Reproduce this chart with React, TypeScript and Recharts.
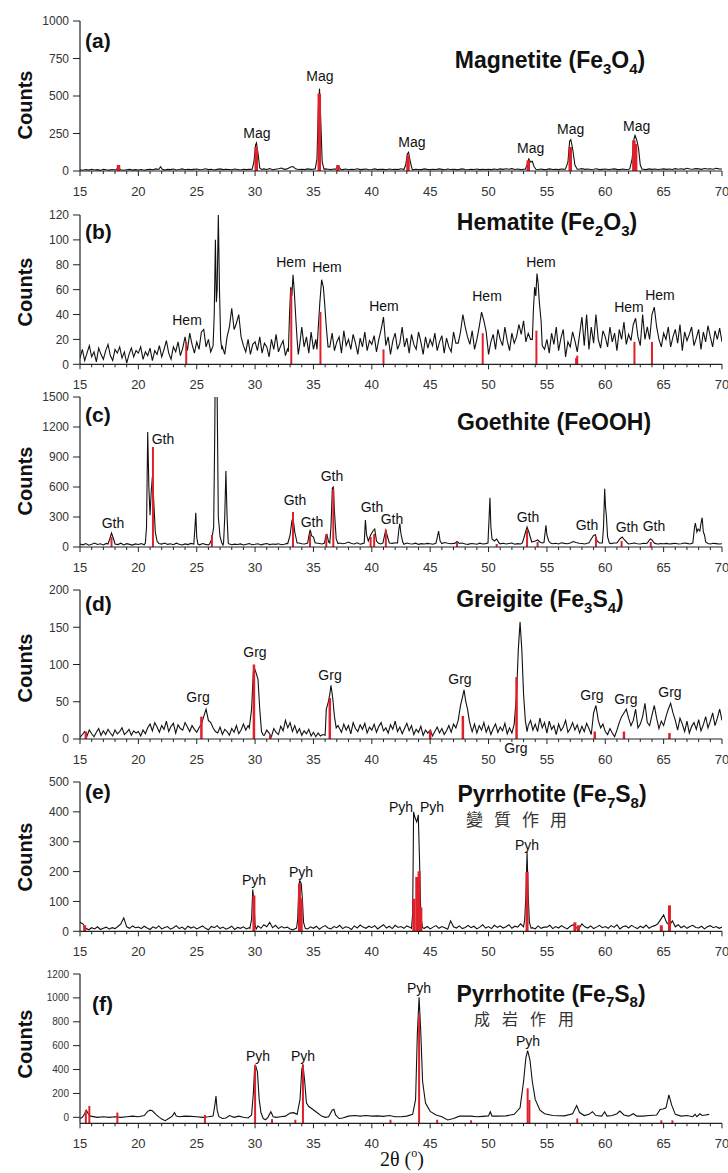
import React from 'react';
import { LineChart, Line, XAxis, YAxis, ReferenceLine, ReferenceDot } from 'recharts';

const FONT = "'Liberation Sans', Arial, sans-serif";
const RED = '#e0202a';

// x grid of the scans: 15..70 deg 2theta
const X_START = 15;
const xTicks = Array.from({ length: 56 }, (_, i) => 15 + i);

// (a) magnetite, step 0.25
const bgA = [
  8, 5, 10, 6, 12, 7, 9, 4, 11, 8, 6, 10, 7, 13, 9, 5, 8, 11, 6, 9,
  7, 10, 5, 9, 12, 8, 14, 8, 10, 6, 11, 9, 13, 7, 10, 14, 8, 12, 9, 11,
  13, 8, 10, 15, 9, 12, 7, 11, 14, 9, 12, 10, 8, 13, 10, 7, 12, 9, 11, 14,
  10, 12, 9, 14, 10, 16, 8, 12, 15, 20, 11, 14, 25, 30, 13, 10, 12, 9, 14, 11,
  12, 10, 15, 11, 14, 12, 9, 13, 10, 14, 9, 13, 8, 12, 10, 15, 9, 11, 13, 8,
  10, 14, 9, 12, 11, 8, 13, 10, 12, 9, 15, 11, 10, 13, 8, 12, 10, 9, 14, 11,
  9, 12, 10, 14, 11, 8, 13, 10, 12, 9, 11, 14, 10, 8, 12, 10, 13, 9, 11, 10,
  12, 9, 13, 10, 14, 11, 15, 12, 16, 10, 13, 9, 12, 14, 11, 18, 12, 10, 13, 9,
  11, 14, 10, 12, 9, 13, 11, 12, 10, 14, 9, 12, 16, 11, 13, 10, 12, 15, 9, 11,
  13, 10, 12, 14, 11, 9, 13, 10, 12, 15, 11, 13, 10, 12, 9, 14, 11, 13, 10, 12,
  14, 11, 13, 10, 16, 12, 15, 11, 18, 13, 12, 16, 14, 11, 17, 13, 15, 12, 18, 14,
  13,
];
const peaksA = [
  [[18.1, 10], [18.3, 22], [18.5, 8]],
  [[21.75, 10], [21.9, 28], [22.05, 12]],
  [[29.75, 12], [29.9, 60], [30.05, 175], [30.12, 187], [30.25, 120], [30.4, 20], [30.55, 10]],
  [[35.15, 14], [35.3, 80], [35.42, 420], [35.52, 549], [35.62, 350], [35.75, 60], [35.9, 12]],
  [[36.9, 12], [37.05, 30], [37.2, 25], [37.35, 10]],
  [[42.75, 10], [42.9, 40], [43.05, 115], [43.15, 125], [43.3, 60], [43.45, 12]],
  [[53.15, 12], [53.3, 40], [53.45, 80], [53.6, 60], [53.75, 65], [53.9, 30], [54.05, 12]],
  [[56.6, 14], [56.8, 60], [56.95, 200], [57.05, 209], [57.2, 150], [57.4, 40], [57.6, 12]],
  [[62.1, 14], [62.3, 80], [62.45, 210], [62.55, 238], [62.7, 205], [62.85, 150], [63.0, 40], [63.15, 12]],
];
const sticksA = [[18.3, 40], [30.1, 160], [35.5, 515], [37.1, 40], [43.1, 104], [53.4, 71], [57.0, 160], [62.45, 204], [62.6, 180]];
const labelsA = [[30.16, 251], [35.56, 631], [43.44, 191], [53.61, 151], [57.04, 278], [62.69, 298]];

// (b) hematite, step 0.2
const bgB = [
  5, 12, 3, 9, 15, 6, 10, 2, 13, 8, 4, 11, 16, 7, 3, 12, 9, 14, 5, 10, 1, 8, 13, 6, 11,
  9, 14, 4, 10, 7, 13, 3, 11, 8, 15, 6, 12, 19, 9, 4, 14, 10, 18, 7, 13, 22, 11, 25, 16, 9,
  18, 12, 26, 28, 14, 20, 10, 15, 60, 60, 40, 14, 8, 22, 30, 45, 28, 33, 40, 22, 15, 10, 20, 8, 16,
  18, 11, 22, 9, 17, 14, 6, 20, 12, 24, 10, 15, 19, 7, 13, 21, 16, 40, 25, 14, 30, 14, 22, 9, 26,
  12, 20, 30, 40, 65, 55, 20, 14, 25, 11, 18, 22, 9, 27, 15, 20, 12, 24, 17, 8, 21, 14, 26, 11, 19,
  16, 23, 10, 20, 28, 38, 15, 22, 8, 19, 25, 12, 17, 30, 14, 21, 9, 24, 16, 12, 26, 18, 8, 22, 13,
  20, 15, 25, 11, 18, 23, 9, 21, 14, 10, 26, 17, 17, 26, 40, 30, 22, 16, 27, 12, 20, 30, 42, 35, 26,
  8, 18, 24, 12, 28, 20, 15, 30, 19, 11, 25, 17, 22, 32, 24, 35, 18, 25, 20, 50, 60, 70, 55, 30, 12,
  20, 9, 25, 16, 30, 11, 21, 28, 6, 18, 14, 26, 19, 10, 24, 38, 15, 40, 12, 30, 17, 40, 20, 13, 27,
  22, 14, 30, 18, 25, 11, 28, 20, 34, 16, 24, 19, 32, 37, 22, 15, 40, 20, 30, 20, 40, 46, 30, 20, 14,
  25, 20, 30, 14, 22, 28, 17, 32, 11, 26, 19, 24, 30, 15, 21, 28, 12, 26, 18, 31, 22, 14, 27, 20, 29,
  18,
];
const peaksB = [
  [[26.4, 15], [26.5, 40], [26.6, 100], [26.68, 50], [26.75, 60], [26.85, 120], [26.95, 60], [27.05, 20], [27.15, 12]],
  [[32.85, 10], [32.95, 40], [33.05, 62], [33.15, 55], [33.25, 72], [33.35, 60], [33.5, 35], [33.6, 20], [33.7, 8]],
  [[35.3, 12], [35.45, 35], [35.55, 50], [35.7, 68], [35.85, 62], [35.95, 50], [36.1, 30], [36.25, 14]],
  [[53.75, 20], [53.85, 45], [53.95, 62], [54.05, 55], [54.15, 73], [54.25, 65], [54.35, 50], [54.5, 35], [54.6, 15]],
];
const sticksB = [[24.1, 18], [33.1, 60], [35.6, 42], [41.0, 12], [49.5, 25], [54.1, 27], [57.5, 5], [57.6, 7], [62.5, 18], [64.0, 18]];
const labelsB = [[24.17, 36], [33.08, 82], [36.16, 78], [41.04, 47], [49.87, 55], [54.49, 82], [62.03, 46], [64.69, 56]];

// (c) goethite, step 0.25
const bgC = [
  30, 22, 35, 18, 28, 40, 25, 32, 20, 36, 27, 15, 30, 24, 38, 21, 33, 26, 19, 31,
  25, 34, 22, 30, 18, 27, 35, 21, 29, 40, 26, 33, 23, 38, 28, 20, 31, 24, 36, 27,
  30, 22, 35, 26, 20, 28, 32, 24, 30, 19, 27, 33, 22, 29, 25, 31, 20, 28, 34, 23,
  27, 32, 21, 29, 35, 24, 30, 26, 33, 22, 28, 36, 25, 31, 27, 40, 33, 30, 45, 60,
  50, 40, 35, 30, 28, 35, 45, 30, 55, 40, 32, 38, 50, 35, 30, 42, 28, 36, 40, 33,
  45, 35, 40, 30, 38, 50, 32, 36, 42, 30, 35, 28, 40, 33, 30, 38, 26, 34, 30, 36,
  32, 28, 35, 40, 30, 45, 38, 32, 36, 28, 34, 40, 30, 26, 35, 32, 28, 38, 30, 34,
  36, 30, 45, 40, 32, 38, 30, 35, 40, 28, 34, 30, 38, 32, 36, 40, 30, 35, 38, 30,
  34, 40, 32, 38, 30, 42, 36, 33, 40, 55, 45, 38, 35, 30, 40, 36, 32, 38, 42, 40,
  36, 30, 34, 40, 45, 38, 32, 36, 30, 35, 40, 33, 30, 38, 35, 32, 40, 36, 30, 34,
  32, 36, 30, 34, 38, 30, 33, 40, 36, 30, 34, 38, 40, 35, 36, 33, 30, 38, 34, 30,
  32,
];
const peaksC = [
  [[17.4, 30], [17.55, 80], [17.7, 140], [17.85, 90], [18.0, 30]],
  [[20.6, 40], [20.7, 200], [20.8, 1150], [20.9, 600], [21.0, 317], [21.1, 550], [21.2, 700], [21.3, 500], [21.45, 150], [21.6, 60], [21.75, 35]],
  [[24.75, 30], [24.85, 200], [24.92, 343], [25.0, 100], [25.1, 30]],
  [[26.1, 30], [26.3, 80], [26.45, 200], [26.55, 1200], [26.65, 3000], [26.75, 1500], [26.85, 300], [27.0, 100], [27.15, 40]],
  [[27.3, 40], [27.4, 300], [27.5, 760], [27.6, 300], [27.7, 40]],
  [[32.8, 35], [33.0, 120], [33.15, 260], [33.25, 293], [33.4, 150], [33.6, 40]],
  [[34.5, 40], [34.62, 120], [34.72, 170], [34.85, 110], [35.0, 100], [35.15, 40]],
  [[35.95, 40], [36.05, 110], [36.15, 125], [36.3, 50]],
  [[36.4, 40], [36.5, 200], [36.62, 590], [36.7, 600], [36.8, 350], [36.95, 80], [37.1, 35]],
  [[39.35, 40], [39.45, 270], [39.55, 120], [39.7, 60], [39.9, 120], [40.1, 160], [40.25, 180], [40.4, 60], [40.55, 40]],
  [[40.95, 40], [41.1, 120], [41.2, 165], [41.35, 100], [41.5, 40]],
  [[42.2, 40], [42.32, 180], [42.4, 233], [42.5, 130], [42.65, 50]],
  [[45.5, 40], [45.65, 120], [45.72, 160], [45.85, 60], [46.0, 35]],
  [[47.1, 35], [47.3, 55], [47.5, 35]],
  [[49.95, 40], [50.05, 300], [50.12, 493], [50.2, 200], [50.3, 80], [50.5, 60], [50.7, 80], [50.9, 40]],
  [[52.9, 40], [53.1, 120], [53.3, 200], [53.45, 150], [53.7, 50], [54.0, 60], [54.2, 70], [54.4, 50], [54.6, 40]],
  [[54.75, 45], [54.85, 150], [54.92, 217], [55.0, 120], [55.15, 60], [55.3, 40]],
  [[58.6, 40], [58.8, 80], [59.0, 115], [59.15, 123], [59.3, 60], [59.5, 40]],
  [[59.75, 40], [59.85, 200], [59.95, 583], [60.02, 400], [60.1, 300], [60.2, 100], [60.35, 40]],
  [[61.0, 40], [61.25, 80], [61.45, 100], [61.65, 70], [61.9, 40]],
  [[63.6, 40], [63.85, 80], [64.0, 70], [64.2, 40]],
  [[67.5, 40], [67.65, 200], [67.72, 240], [67.85, 150], [67.95, 180], [68.1, 160], [68.22, 250], [68.3, 293], [68.4, 150], [68.5, 120], [68.6, 50], [68.8, 35]],
];
const sticksC = [[17.7, 100], [21.25, 1000], [26.3, 120], [33.25, 350], [34.7, 130], [36.1, 130], [36.7, 580], [39.9, 100], [40.2, 130], [41.2, 173], [47.3, 40], [50.7, 30], [53.3, 170], [54.2, 50], [59.2, 100], [61.4, 60], [63.9, 50]];
const labelsC = [[17.83, 237], [22.11, 1077], [33.42, 467], [34.87, 247], [36.59, 707], [40.01, 397], [41.73, 277], [53.38, 297], [58.43, 217], [61.86, 197], [64.17, 207]];

// (d) greigite, step 0.2
const bgD = [
  2, 6, 10, 4, 12, 7, 3, 9, 14, 5, 11, 6, 13, 8, 4, 12, 7, 10, 15, 6, 9, 13, 5, 11, 8,
  10, 4, 12, 7, 15, 20, 11, 22, 16, 9, 18, 13, 24, 10, 17, 21, 8, 19, 14, 12, 22, 16, 10, 18, 13,
  9, 15, 20, 30, 40, 25, 22, 15, 10, 8, 16, 6, 13, 10, 5, 14, 9, 18, 7, 12, 20, 12, 18, 0, 0,
  0, 0, 0, 0, 5, 12, 8, 3, 14, 9, 6, 17, 11, 25, 15, 22, 10, 18, 8, 14, 5, 11, 7, 13, 4,
  9, 3, 8, 4, 6, 0, 0, 0, 0, 0, 0, 15, 9, 20, 12, 18, 7, 22, 14, 10, 19, 13, 21, 8, 16,
  12, 20, 9, 17, 22, 11, 15, 8, 19, 13, 24, 10, 16, 7, 14, 21, 11, 18, 6, 13, 9, 17, 5, 12, 8,
  12, 4, 10, 16, 8, 14, 6, 11, 18, 9, 20, 0, 0, 0, 0, 0, 0, 0, 10, 20, 8, 18, 12, 22, 9,
  17, 6, 14, 20, 9, 16, 11, 21, 7, 15, 0, 0, 0, 0, 0, 0, 0, 18, 25, 12, 20, 10, 28, 15, 22,
  8, 24, 13, 18, 6, 20, 11, 16, 25, 9, 14, 22, 12, 19, 8, 17, 10, 21, 14, 6, 35, 45, 25, 15, 20,
  10, 6, 14, 8, 3, 12, 22, 30, 35, 40, 28, 18, 25, 40, 15, 20, 30, 48, 22, 18, 32, 45, 28, 14, 24,
  18, 30, 40, 48, 35, 25, 12, 28, 20, 10, 24, 8, 17, 22, 13, 26, 11, 19, 30, 15, 24, 35, 18, 28, 40,
  25,
];
const peaksD = [
  [[29.5, 15], [29.7, 40], [29.85, 90], [29.95, 95], [30.1, 88], [30.25, 80], [30.4, 40], [30.55, 10], [30.7, 5]],
  [[36.0, 5], [36.1, 40], [36.25, 48], [36.4, 60], [36.5, 72], [36.65, 55], [36.8, 30], [36.95, 15], [37.1, 18]],
  [[47.2, 15], [47.4, 25], [47.6, 45], [47.75, 55], [47.9, 66], [48.05, 50], [48.2, 40], [48.35, 25], [48.5, 15]],
  [[52.0, 8], [52.2, 20], [52.4, 60], [52.55, 120], [52.7, 157], [52.85, 120], [53.0, 60], [53.15, 25], [53.3, 10]],
];
const sticksD = [[15.5, 10], [25.4, 30], [29.9, 100], [31.3, 5], [36.4, 55], [45.0, 12], [47.8, 31], [52.4, 83], [59.1, 10], [61.6, 10], [65.5, 8]];
const labelsD = [[25.11, 56], [29.99, 117], [36.42, 86], [47.55, 81], [52.35, -12], [58.86, 59], [61.77, 54], [65.54, 63]];

// (e) pyrrhotite, metamorphic, step 0.25
const bgE = [
  30, 25, 10, 5, 12, 8, 15, 6, 10, 14, 7, 12, 9, 16, 25, 45, 15, 10, 18, 12,
  14, 9, 17, 11, 6, 15, 10, 18, 8, 13, 16, 7, 12, 19, 9, 14, 6, 17, 11, 15,
  8, 13, 18, 10, 5, 16, 12, 19, 9, 14, 7, 11, 17, 6, 13, 10, 15, 8, 12, 0,
  0, 18, 10, 22, 15, 30, 12, 20, 9, 16, 11, 14, 8, 5, 10, 0, 0, 0, 8, 15,
  10, 17, 7, 14, 19, 11, 8, 16, 12, 20, 9, 15, 13, 6, 18, 11, 21, 14, 10, 17,
  12, 19, 8, 15, 22, 11, 17, 9, 20, 13, 16, 10, 18, 14, 0, 0, 0, 0, 10, 16,
  8, 14, 19, 10, 16, 12, 7, 35, 15, 11, 18, 9, 13, 20, 12, 17, 8, 14, 22, 11,
  16, 9, 20, 13, 18, 11, 15, 22, 10, 17, 14, 25, 0, 0, 0, 12, 8, 18, 10, 14,
  14, 20, 9, 16, 11, 19, 13, 8, 17, 22, 12, 10, 25, 15, 11, 18, 9, 14, 20, 12,
  16, 10, 19, 13, 22, 8, 15, 18, 11, 20, 14, 9, 17, 12, 21, 10, 16, 19, 25, 40,
  55, 30, 20, 35, 15, 22, 12, 18, 10, 16, 20, 13, 11, 17, 8, 15, 19, 12, 16, 10,
  14,
];
const peaksE = [
  [[29.55, 10], [29.7, 40], [29.8, 140], [29.9, 100], [30.0, 20], [30.1, 8]],
  [[33.55, 10], [33.65, 40], [33.75, 150], [33.82, 170], [33.95, 160], [34.05, 110], [34.15, 30], [34.3, 10]],
  [[43.4, 10], [43.5, 60], [43.58, 400], [43.7, 380], [43.85, 366], [43.98, 390], [44.08, 250], [44.2, 50], [44.35, 12]],
  [[53.0, 15], [53.1, 40], [53.2, 120], [53.3, 266], [53.4, 120], [53.5, 30], [53.65, 10]],
];
const sticksE = [[15.4, 20], [29.9, 120], [33.8, 160], [33.95, 110], [43.6, 109], [43.85, 182], [44.05, 201], [44.2, 80], [53.3, 199], [57.4, 30], [57.7, 20], [64.8, 20], [65.5, 87]];
const labelsE = [[29.91, 171], [33.93, 198], [42.5, 415], [45.16, 415], [53.29, 288]];

// (f) pyrrhotite, diagenetic (smooth scan, read point by point)
const traceF = [
  [15, -10], [15.2, 0], [15.4, 30], [15.55, 60], [15.7, 30], [15.9, 10], [16.5, 0], [17, 5], [17.5, 0], [18, 5], [18.5, 0],
  [19, 5], [19.5, 10], [20, 5], [20.5, 15], [20.8, 50], [21.0, 60], [21.2, 55], [21.5, 25], [21.8, 0], [22.0, -15], [22.3, -28],
  [22.6, -10], [22.9, 10], [23.1, 39], [23.25, 10], [23.5, 5], [24, 10], [24.5, 8], [25, 5], [25.5, 0], [26, 5], [26.4, 10],
  [26.55, 100], [26.65, 179], [26.75, 60], [26.9, 5], [27.2, -10], [27.5, -5], [27.8, 15], [28.2, 0], [28.6, 10], [29, 0],
  [29.4, -5], [29.7, 20], [29.85, 200], [29.95, 400], [30.05, 430], [30.2, 380], [30.35, 150], [30.5, 40], [30.7, -10],
  [30.9, -20], [31.1, 0], [31.35, 47], [31.55, 5], [31.8, 0], [32.2, 5], [32.6, 10], [33.0, 35], [33.3, 39], [33.6, 25],
  [33.85, 150], [34.0, 400], [34.1, 444], [34.25, 300], [34.4, 120], [34.6, 90], [34.9, 70], [35.3, 40], [35.7, 10], [36.0, 0],
  [36.3, 5], [36.6, 60], [36.75, 67], [36.9, 20], [37.2, -10], [37.5, -5], [38, 10], [38.5, 15], [39, 10], [39.5, 15], [40, 10],
  [40.5, 12], [41, 8], [41.5, 15], [42, 5], [42.5, 5], [43, 10], [43.5, 25], [43.75, 150], [43.9, 700], [44.05, 1005],
  [44.2, 700], [44.35, 300], [44.6, 120], [45, 50], [45.5, 20], [46, 5], [46.5, -22], [47, -10], [47.5, 10], [48, 10],
  [48.5, 10], [49, 5], [49.5, 8], [50, 12], [50.15, 47], [50.3, 10], [50.8, 10], [51.5, 12], [52.2, 25], [52.7, 80],
  [53.0, 300], [53.2, 500], [53.35, 558], [53.55, 480], [53.75, 300], [54.0, 150], [54.4, 60], [54.8, 30], [55.5, 15],
  [56.5, 12], [57.2, 30], [57.55, 98], [57.8, 40], [58.2, 15], [58.6, 25], [58.9, 47], [59.2, 15], [59.7, 10], [59.95, 47],
  [60.15, 10], [60.6, 15], [61.0, 30], [61.25, 53], [61.6, 20], [62.0, 10], [62.4, 30], [62.7, 10], [63.2, 10], [63.8, 15],
  [64.4, 20], [64.7, 65], [64.95, 70], [65.2, 80], [65.45, 187], [65.7, 100], [66.0, 25], [66.5, 10], [67, 15], [67.5, 5],
  [67.7, 25], [67.85, 5], [68.1, 30], [68.3, 15], [68.6, 20], [68.9, 25],
];
const sticksF = [[15.5, 60], [15.8, 95], [18.2, 40], [25.7, 20], [30.0, 440], [31.45, -15], [33.45, -20], [34.1, 440], [41.6, -20], [44.05, 857], [45.6, -20], [48.5, -25], [53.35, 243], [53.5, 145], [57.6, -10], [64.8, -25], [65.75, -25]];
const labelsF = [[30.25, 513], [34.1, 513], [44.04, 1083], [53.38, 639]];

function buildTrace(bg, step, peaks) {
  const out = [];
  bg.forEach((v, i) => {
    const x = Math.round((X_START + i * step) * 100) / 100;
    if (peaks.some((p) => x >= p[0][0] && x <= p[p.length - 1][0])) return;
    out.push({ x, y: v });
  });
  peaks.forEach((p) => p.forEach(([x, y]) => out.push({ x, y })));
  return out.sort((a, b) => a.x - b.x);
}

const XTick = (props: any) => {
  const { x, y, payload } = props;
  const v = payload.value;
  const major = v % 5 === 0;
  return (
    <g>
      <line x1={x} x2={x} y1={y} y2={y + (major ? 5 : 3)} stroke="#222" strokeWidth={1} />
      {major && (
        <text x={x} y={y + 25} textAnchor="middle" fontSize={13} fill="#333" fontFamily={FONT}>{v}</text>
      )}
    </g>
  );
};

function Panel({ top, bottom, data, yMin, yMax, yTicks, yFont, sticks, stickWidth, labels, tag }) {
  const T = 10;
  const B = 30;
  const h = bottom - top + T + B;
  return (
    <div style={{ position: 'absolute', left: 0, top: top - T }}>
      <LineChart width={728} height={h} data={data} margin={{ top: T, right: 6, bottom: 0, left: 0 }}>
        <XAxis
          type="number"
          dataKey="x"
          domain={[15, 70]}
          ticks={xTicks}
          interval={0}
          tickLine={false}
          tickSize={0}
          tickMargin={0}
          height={B}
          axisLine={{ stroke: '#222', strokeWidth: 1.2 }}
          tick={(p) => <XTick {...p} />}
          allowDataOverflow
        />
        <YAxis
          type="number"
          domain={[yMin, yMax]}
          ticks={yTicks}
          interval={0}
          width={80}
          tickSize={7}
          tickMargin={4}
          axisLine={{ stroke: '#222', strokeWidth: 1.2 }}
          tickLine={{ stroke: '#222' }}
          tick={{ fontSize: yFont, fill: '#333', fontFamily: FONT }}
          allowDataOverflow
        />
        <Line dataKey="y" type="linear" stroke="#111" strokeWidth={1.1} dot={false} isAnimationActive={false} />
        {sticks.map(([x, y], i) => (
          <ReferenceLine
            key={'s' + i}
            segment={[{ x, y: yMin }, { x, y }]}
            stroke={RED}
            strokeWidth={stickWidth}
            ifOverflow="visible"
          />
        ))}
        {labels.map(([x, y], i) => (
          <ReferenceDot
            key={'l' + i}
            x={x}
            y={y}
            r={0}
            ifOverflow="visible"
            shape={(p) => (
              <text x={p.cx} y={p.cy} textAnchor="middle" dominantBaseline="central" fontSize={14} fill="#111" fontFamily={FONT}>
                {tag}
              </text>
            )}
          />
        ))}
      </LineChart>
    </div>
  );
}

const dataA = buildTrace(bgA, 0.25, peaksA);
const dataB = buildTrace(bgB, 0.2, peaksB);
const dataC = buildTrace(bgC, 0.25, peaksC);
const dataD = buildTrace(bgD, 0.2, peaksD);
const dataE = buildTrace(bgE, 0.25, peaksE);
const dataF = traceF.map(([x, y]) => ({ x, y }));

const countsY = [105, 292, 481, 668, 857, 1044];

export default function App() {
  return (
    <div style={{ position: 'absolute', left: 0, top: 0, width: 728, height: 1173, background: '#fff', overflow: 'hidden' }}>
      <Panel top={20.7} bottom={170.7} data={dataA} yMin={0} yMax={1000} yTicks={[0, 250, 500, 750, 1000]} yFont={12} sticks={sticksA} stickWidth={3.5} labels={labelsA} tag="Mag" />
      <Panel top={214.7} bottom={364} data={dataB} yMin={0} yMax={120} yTicks={[0, 20, 40, 60, 80, 100, 120]} yFont={12} sticks={sticksB} stickWidth={2} labels={labelsB} tag="Hem" />
      <Panel top={396.7} bottom={546.7} data={dataC} yMin={0} yMax={1500} yTicks={[0, 300, 600, 900, 1200, 1500]} yFont={12} sticks={sticksC} stickWidth={2} labels={labelsC} tag="Gth" />
      <Panel top={590} bottom={739} data={dataD} yMin={0} yMax={200} yTicks={[0, 50, 100, 150, 200]} yFont={12} sticks={sticksD} stickWidth={2.5} labels={labelsD} tag="Grg" />
      <Panel top={781.7} bottom={931} data={dataE} yMin={0} yMax={500} yTicks={[0, 100, 200, 300, 400, 500]} yFont={12} sticks={sticksE} stickWidth={3} labels={labelsE} tag="Pyh" />
      <Panel top={974} bottom={1123.3} data={dataF} yMin={-50} yMax={1200} yTicks={[0, 200, 400, 600, 800, 1000, 1200]} yFont={10} sticks={sticksF} stickWidth={2} labels={labelsF} tag="Pyh" />

      <svg width={728} height={1173} style={{ position: 'absolute', left: 0, top: 0, pointerEvents: 'none' }}>
        <g fontFamily={FONT} fontWeight="bold" fill="#111">
          {countsY.map((cy, i) => (
            <text key={i} x={32} y={cy} transform={`rotate(-90, 32, ${cy})`} textAnchor="middle" fontSize={20}>Counts</text>
          ))}
          <text x={85} y={48} fontSize={21}>(a)</text>
          <text x={85} y={239} fontSize={21}>(b)</text>
          <text x={85} y={422} fontSize={21}>(c)</text>
          <text x={85} y={611} fontSize={21}>(d)</text>
          <text x={85} y={799} fontSize={21}>(e)</text>
          <text x={92} y={1011} fontSize={21}>(f)</text>

          <text x={550} y={68} fontSize={23} textAnchor="middle">
            Magnetite (Fe<tspan fontSize={15} dy={6}>3</tspan><tspan dy={-6}>O</tspan><tspan fontSize={15} dy={6}>4</tspan><tspan dy={-6}>)</tspan>
          </text>
          <text x={547} y={230} fontSize={23} textAnchor="middle">
            Hematite (Fe<tspan fontSize={15} dy={6}>2</tspan><tspan dy={-6}>O</tspan><tspan fontSize={15} dy={6}>3</tspan><tspan dy={-6}>)</tspan>
          </text>
          <text x={554} y={430} fontSize={23} textAnchor="middle">Goethite (FeOOH)</text>
          <text x={540} y={607} fontSize={23} textAnchor="middle">
            Greigite (Fe<tspan fontSize={15} dy={6}>3</tspan><tspan dy={-6}>S</tspan><tspan fontSize={15} dy={6}>4</tspan><tspan dy={-6}>)</tspan>
          </text>
          <text x={552} y={802} fontSize={23} textAnchor="middle">
            Pyrrhotite (Fe<tspan fontSize={15} dy={6}>7</tspan><tspan dy={-6}>S</tspan><tspan fontSize={15} dy={6}>8</tspan><tspan dy={-6}>)</tspan>
          </text>
          <text x={551} y={1002} fontSize={23} textAnchor="middle">
            Pyrrhotite (Fe<tspan fontSize={15} dy={5}>7</tspan><tspan dy={-5}>S</tspan><tspan fontSize={15} dy={5}>8</tspan><tspan dy={-5}>)</tspan>
          </text>
        </g>
        <g fontFamily="'Noto Sans CJK TC', 'Noto Sans CJK SC', sans-serif" fill="#333">
          <text x={466} y={826} fontSize={17} letterSpacing={11}>變質作用</text>
          <text x={474} y={1025} fontSize={16} letterSpacing={12}>成岩作用</text>
        </g>
        <text x={380} y={1166} fontSize={20} fontFamily="'Liberation Serif', 'Times New Roman', serif" fill="#111">
          2θ (<tspan fontSize={12} dy={-9}>o</tspan><tspan dy={9}>)</tspan>
        </text>
      </svg>
    </div>
  );
}
